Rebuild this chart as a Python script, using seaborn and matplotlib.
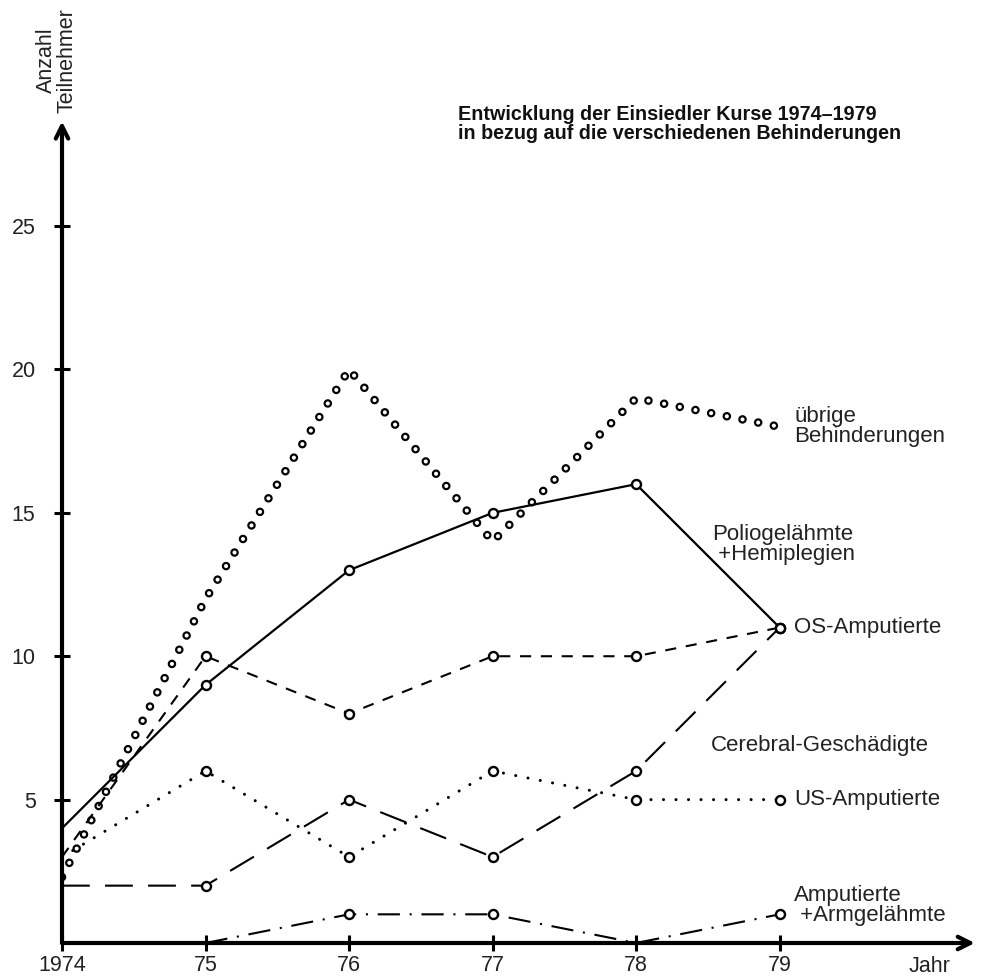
import numpy as np
import pandas as pd
import seaborn as sns
import matplotlib.pyplot as plt

years = [1974, 1975, 1976, 1977, 1978, 1979]
year_labels = ['1974', '75', '76', '77', '78', '79']

uebrige = [2.3, 12, 20, 14, 19, 18]
polio = [4, 9, 13, 15, 16, 11]
os_amp = [3, 10, 8, 10, 10, 11]
cerebral = [2, 2, 5, 3, 6, 11]
us_amp = [3, 6, 3, 6, 5, 5]
arm_years = [1975, 1976, 1977, 1978, 1979]
arm_amp = [0, 1, 1, 0, 1]

y_ticks = [5, 10, 15, 20, 25]

sns.set_style('white')
plt.rcParams['font.family'] = ['Liberation Sans', 'DejaVu Sans']
plt.rcParams['lines.scale_dashes'] = False

fig = plt.figure(figsize=(9.84, 9.77), dpi=100)
ax = fig.add_axes([62 / 984, 34 / 977, 910 / 984, 821 / 977])
ax.set_xlim(1974, 1980.34)
ax.set_ylim(0, 28.63)

mk = dict(marker='o', markersize=6.5, markerfacecolor='white',
          markeredgecolor='black', markeredgewidth=1.7)

# übrige Behinderungen: chain of small open rings
sns.lineplot(x=years, y=uebrige, ax=ax, color='black', lw=6.2,
             linestyle=(0, (0.01, 11.5)), dash_capstyle='round')
sns.lineplot(x=years, y=uebrige, ax=ax, color='white', lw=3.0,
             linestyle=(0, (0.01, 11.5)), dash_capstyle='round')

sns.lineplot(x=years, y=polio, ax=ax, color='black', lw=1.6,
             markevery=[1, 2, 3, 4, 5], **mk)
sns.lineplot(x=years, y=os_amp, ax=ax, color='black', lw=1.5,
             linestyle=(0, (8, 7)), markevery=[1, 2, 3, 4, 5], **mk)
sns.lineplot(x=years, y=cerebral, ax=ax, color='black', lw=1.5,
             linestyle=(0, (20, 11)), markevery=[1, 2, 3, 4, 5], **mk)
sns.lineplot(x=years, y=us_amp, ax=ax, color='black', lw=2.2,
             linestyle=(0, (0.01, 9)), dash_capstyle='round',
             markevery=[1, 2, 3, 4, 5], **mk)
sns.lineplot(x=arm_years, y=arm_amp, ax=ax, color='black', lw=1.5,
             linestyle=(0, (16, 7, 1.5, 7)), markevery=[1, 2, 4], **mk)

for s in ax.spines.values():
    s.set_visible(False)

# axes with arrows
arrow = dict(arrowstyle='->,head_length=0.9,head_width=0.45',
             lw=3, color='black', shrinkA=0, shrinkB=0)
ax.annotate('', xy=(1980.36, 0), xytext=(1974, 0), xycoords='data',
            arrowprops=arrow, annotation_clip=False)
ax.annotate('', xy=(1974, 28.65), xytext=(1974, 0), xycoords='data',
            arrowprops=arrow, annotation_clip=False)

ax.set_xticks(years)
ax.set_xticklabels(year_labels)
ax.set_yticks(y_ticks)
ax.set_yticklabels([str(v) for v in y_ticks])
ax.tick_params(axis='both', direction='inout', length=12, width=2.2,
               color='black', labelsize=15.5, labelcolor='#222222')
ax.tick_params(axis='x', pad=2.5)
ax.tick_params(axis='y', pad=13)
ax.xaxis.set_ticks_position('bottom')
ax.yaxis.set_ticks_position('left')
ax.set_xlabel('')
ax.set_ylabel('')

fig.text(1.0 - 34 / 984, 1 - 966 / 977, 'Jahr', ha='right', va='center',
         fontsize=15.5, color='#222222')
fig.text(57 / 984, 1 - 8 / 977, 'Anzahl\nTeilnehmer', rotation=90,
         ha='center', va='top', fontsize=15.5, color='#222222',
         linespacing=0.95)

fig.text(458 / 984, 1 - 105 / 977,
         'Entwicklung der Einsiedler Kurse 1974–1979\n'
         'in bezug auf die verschiedenen Behinderungen',
         ha='left', va='top', fontsize=14.2, fontweight='bold',
         color='#111111', linespacing=1.0)

lab = dict(fontsize=16, color='#222222', va='center', ha='left',
           linespacing=0.95)
ax.text(1979.1, 18.0, 'übrige\nBehinderungen', **lab)
ax.text(1978.53, 13.9, 'Poliogelähmte\n +Hemiplegien', **lab)
ax.text(1979.1, 11.0, 'OS-Amputierte', **lab)
ax.text(1978.52, 6.9, 'Cerebral-Geschädigte', **lab)
ax.text(1979.1, 5.0, 'US-Amputierte', **lab)
ax.text(1979.1, 1.3, 'Amputierte\n +Armgelähmte', **lab)

fig.savefig('out.png', dpi=100)
